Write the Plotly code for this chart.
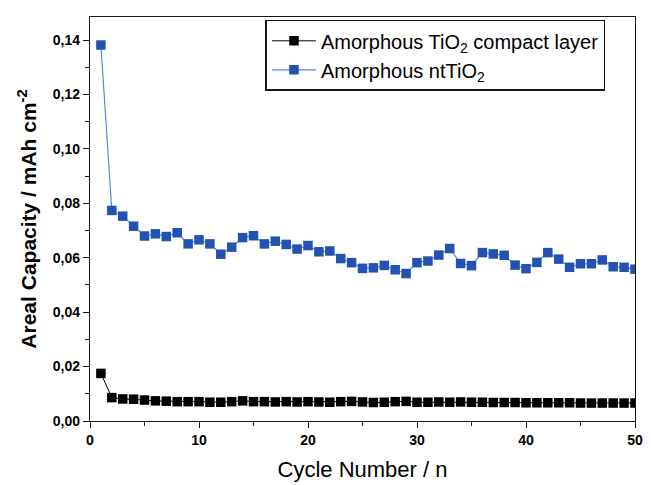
import plotly.graph_objects as go

cycles = list(range(1, 51))

compact_layer = [
    0.0175, 0.0086, 0.0081, 0.0080, 0.0077, 0.0074, 0.0073, 0.0071, 0.0071, 0.0071,
    0.0069, 0.0069, 0.0071, 0.0074, 0.0071, 0.0071, 0.0070, 0.0071, 0.0070, 0.0071,
    0.0070, 0.0069, 0.0071, 0.0072, 0.0070, 0.0068, 0.0069, 0.0071, 0.0072, 0.0069,
    0.0069, 0.0070, 0.0069, 0.0070, 0.0069, 0.0069, 0.0068, 0.0068, 0.0068, 0.0067,
    0.0067, 0.0067, 0.0067, 0.0067, 0.0066, 0.0066, 0.0066, 0.0066, 0.0066, 0.0066,
]

nt_tio2 = [
    0.1382, 0.0774, 0.0753, 0.0716, 0.0680, 0.0688, 0.0678, 0.0692, 0.0651, 0.0666,
    0.0651, 0.0613, 0.0639, 0.0674, 0.0681, 0.0651, 0.0661, 0.0649, 0.0632, 0.0645,
    0.0622, 0.0625, 0.0597, 0.0582, 0.0561, 0.0563, 0.0572, 0.0556, 0.0542, 0.0582,
    0.0588, 0.0610, 0.0634, 0.0579, 0.0571, 0.0619, 0.0614, 0.0609, 0.0573, 0.0560,
    0.0583, 0.0619, 0.0595, 0.0565, 0.0578, 0.0578, 0.0592, 0.0567, 0.0565, 0.0558,
]

y_ticks = [0.00, 0.02, 0.04, 0.06, 0.08, 0.10, 0.12, 0.14]
x_ticks = [0, 10, 20, 30, 40, 50]

frame = "#1e1410"

fig = go.Figure()
fig.add_trace(go.Scatter(
    x=cycles, y=compact_layer, mode="lines+markers",
    name="Amorphous TiO<sub>2</sub> compact layer",
    line=dict(color="#000000", width=1),
    marker=dict(symbol="square", size=9.5, color="#000000"),
))
fig.add_trace(go.Scatter(
    x=cycles, y=nt_tio2, mode="lines+markers",
    name="Amorphous ntTiO<sub>2</sub>",
    line=dict(color="#5a86d6", width=1.2),
    marker=dict(symbol="square", size=9.5, color="#2352b0"),
))

fig.update_layout(
    width=651, height=485,
    margin=dict(l=90, r=8, t=17, b=62),
    paper_bgcolor="white", plot_bgcolor="white",
    separators=", ",
    font=dict(family="Liberation Sans, Arial, sans-serif", color="#000000"),
    showlegend=True,
    legend=dict(
        x=0.322, y=0.993, xanchor="left", yanchor="top",
        bordercolor=frame, borderwidth=1.5, bgcolor="white",
        font=dict(size=20, color="#000000"),
        itemwidth=44, tracegroupgap=0,
    ),
)

fig.update_xaxes(
    range=[0, 50], tickvals=x_ticks,
    ticks="outside", ticklen=6, tickwidth=1.3, tickcolor=frame,
    showline=True, linecolor=frame, linewidth=1.3, mirror=True,
    showgrid=False, zeroline=False,
    tickfont=dict(size=14, family="Liberation Sans, Arial", weight="bold"),
    minor=dict(dtick=5, tick0=0, ticks="outside", ticklen=4, tickcolor=frame, showgrid=False),
    title=dict(text="Cycle Number / n", font=dict(size=22), standoff=14),
)
fig.update_yaxes(
    range=[0, 0.1485], tickvals=y_ticks, tickformat=".2f",
    ticks="outside", ticklen=6, tickwidth=1.3, tickcolor=frame,
    showline=True, linecolor=frame, linewidth=1.3, mirror=True,
    showgrid=False, zeroline=False,
    tickfont=dict(size=14, family="Liberation Sans, Arial", weight="bold"),
    minor=dict(dtick=0.01, tick0=0, ticks="outside", ticklen=4, tickcolor=frame, showgrid=False),
    title=dict(text="Areal Capacity / mAh cm<sup>-2</sup>",
               font=dict(size=21, weight="bold"), standoff=10),
)

fig.write_html("out.html")
